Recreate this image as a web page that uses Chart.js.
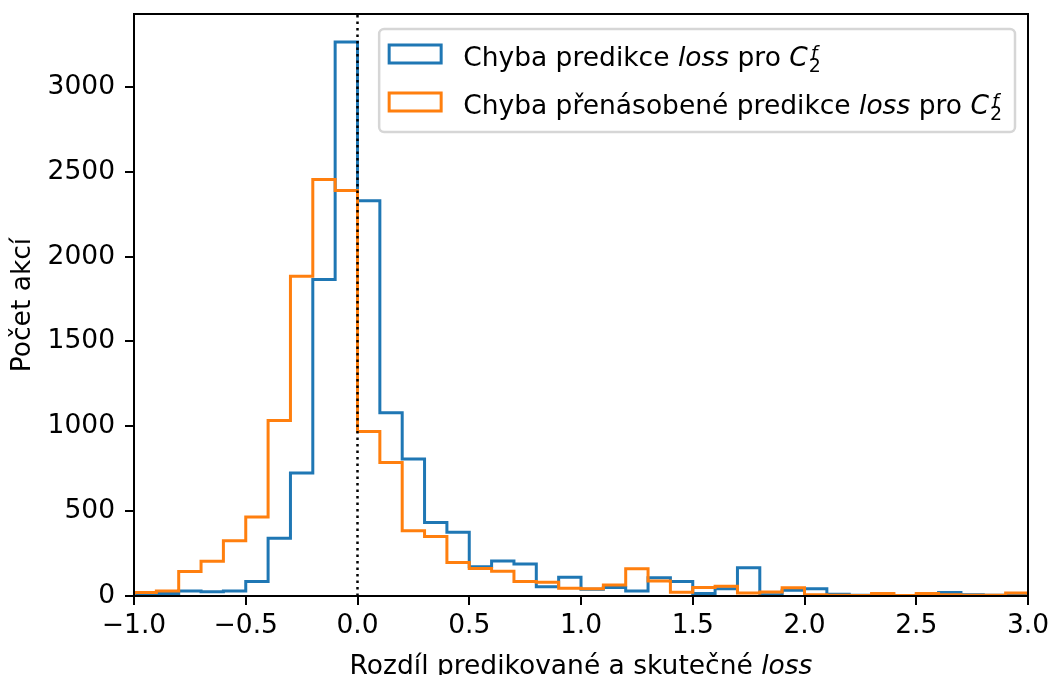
<!DOCTYPE html>
<html lang="cs">
<head>
<meta charset="UTF-8">
<title>Chyba predikce loss</title>
<script src="https://cdn.jsdelivr.net/npm/chart.js@4.4.1/dist/chart.umd.min.js"></script>
<style>
    html, body { margin: 0; padding: 0; background: #ffffff; }
    #wrap { width: 1053px; height: 675px; }
</style>
</head>
<body>
<div id="wrap"><canvas id="histChart" width="1053" height="675"></canvas></div>
<script>
// Bin edges of the histogram (width 0.1)
const binEdges = [
    -1.0, -0.9, -0.8, -0.7, -0.6, -0.5, -0.4, -0.3, -0.2, -0.1,
    0.0, 0.1, 0.2, 0.3, 0.4, 0.5, 0.6, 0.7, 0.8, 0.9,
    1.0, 1.1, 1.2, 1.3, 1.4, 1.5, 1.6, 1.7, 1.8, 1.9,
    2.0, 2.1, 2.2, 2.3, 2.4, 2.5, 2.6, 2.7, 2.8, 2.9, 3.0
];

// Counts per bin - plain prediction
const chybaPredikce = [
    10, 15, 30, 25, 30, 85, 340, 725, 1865, 3265,
    2330, 1080, 808, 433, 375, 172, 206, 188, 55, 110,
    40, 50, 30, 108, 85, 14, 42, 166, 8, 34,
    43, 10, 5, 5, 3, 5, 20, 8, 5, 5
];

// Counts per bin - multiplied prediction
const chybaPrenasobene = [
    20, 30, 145, 205, 325, 465, 1035, 1885, 2455, 2390,
    970, 787, 385, 350, 198, 162, 146, 85, 81, 45,
    43, 65, 160, 89, 22, 50, 57, 18, 24, 49,
    8, 5, 3, 14, 3, 14, 8, 5, 5, 18
];

const xTicks = [-1.0, -0.5, 0.0, 0.5, 1.0, 1.5, 2.0, 2.5, 3.0];
const xTickLabels = ['\u22121.0', '\u22120.5', '0.0', '0.5', '1.0', '1.5', '2.0', '2.5', '3.0'];
const yTicks = [0, 500, 1000, 1500, 2000, 2500, 3000];
const yTickLabels = ['0', '500', '1000', '1500', '2000', '2500', '3000'];
const yMax = 3430;
const refLineX = 0;

const BLUE = '#1f77b4';
const ORANGE = '#ff7f0e';
const FONT = "'DejaVu Sans', sans-serif";
const FS = 26.5;

// Legend entries: text parts (n = normal, i = italic), followed by C_2^f
const legendItems = [
    { color: BLUE, parts: [['Chyba predikce ', 'n'], ['loss', 'i'], [' pro ', 'n']] },
    { color: ORANGE, parts: [['Chyba p\u0159en\u00e1soben\u00e9 predikce ', 'n'], ['loss', 'i'], [' pro ', 'n']] }
];

// Turn bin counts into the points of a step outline
function stepPoints(edges, counts) {
    const pts = [{ x: edges[0], y: 0 }];
    counts.forEach((c, i) => pts.push({ x: edges[i], y: c }));
    pts.push({ x: edges[edges.length - 1], y: counts[counts.length - 1] });
    pts.push({ x: edges[edges.length - 1], y: 0 });
    return pts;
}

function fontStr(style, size) {
    return (style === 'i' ? 'italic ' : '') + size + 'px ' + FONT;
}

// Draw text made of normal / italic pieces, return end x
function drawParts(ctx, parts, x, y, size) {
    parts.forEach(p => {
        ctx.font = fontStr(p[1], size);
        ctx.fillText(p[0], x, y);
        x += ctx.measureText(p[0]).width;
    });
    return x;
}

function partsWidth(ctx, parts, size) {
    let w = 0;
    parts.forEach(p => {
        ctx.font = fontStr(p[1], size);
        w += ctx.measureText(p[0]).width;
    });
    return w;
}

// C with subscript 2 and superscript f
function drawMathC(ctx, x, y, measureOnly) {
    ctx.font = fontStr('i', FS);
    const wC = ctx.measureText('C').width;
    const small = 19;
    ctx.font = fontStr('n', small);
    const w2 = ctx.measureText('2').width;
    if (!measureOnly) {
        ctx.font = fontStr('i', FS);
        ctx.fillText('C', x, y);
        ctx.font = fontStr('n', small);
        ctx.fillText('2', x + wC + 1, y + 6);
        ctx.font = fontStr('i', small);
        ctx.fillText('f', x + wC + 3, y - 6);
    }
    return wC + 1 + w2;
}

const extrasPlugin = {
    id: 'extras',
    afterDatasetsDraw(chart) {
        const { ctx, chartArea, scales } = chart;
        // dotted reference line at zero
        const px = scales.x.getPixelForValue(refLineX);
        ctx.save();
        ctx.strokeStyle = '#000000';
        ctx.lineWidth = 2.5;
        ctx.setLineDash([2.5, 4]);
        ctx.beginPath();
        ctx.moveTo(px, chartArea.bottom);
        ctx.lineTo(px, chartArea.top);
        ctx.stroke();
        ctx.restore();
    },
    afterDraw(chart) {
        const { ctx, chartArea } = chart;
        ctx.save();

        // axes frame
        ctx.strokeStyle = '#000000';
        ctx.lineWidth = 2;
        ctx.strokeRect(chartArea.left, chartArea.top, chartArea.right - chartArea.left, chartArea.bottom - chartArea.top);

        // x axis title with italic "loss"
        const titleParts = [['Rozd\u00edl predikovan\u00e9 a skute\u010dn\u00e9 ', 'n'], ['loss', 'i']];
        const tw = partsWidth(ctx, titleParts, FS);
        ctx.fillStyle = '#000000';
        ctx.textBaseline = 'alphabetic';
        ctx.textAlign = 'left';
        drawParts(ctx, titleParts, (chartArea.left + chartArea.right) / 2 - tw / 2, chart.height - 1, FS);

        // legend
        let maxW = 0;
        legendItems.forEach(item => {
            const w = partsWidth(ctx, item.parts, FS) + drawMathC(ctx, 0, 0, true);
            maxW = Math.max(maxW, w);
        });
        const handleW = 52, handleH = 18, padL = 10, gap = 22, padR = 13;
        const boxW = padL + handleW + gap + maxW + padR;
        const boxH = 103;
        const boxX = chartArea.right - 13 - boxW;
        const boxY = chartArea.top + 15;

        ctx.beginPath();
        ctx.roundRect(boxX, boxY, boxW, boxH, 5);
        ctx.fillStyle = 'rgba(255,255,255,0.8)';
        ctx.fill();
        ctx.strokeStyle = '#d6d6d6';
        ctx.lineWidth = 2.5;
        ctx.stroke();

        legendItems.forEach((item, i) => {
            const cy = boxY + 25 + i * 48;
            ctx.strokeStyle = item.color;
            ctx.lineWidth = 3;
            ctx.strokeRect(boxX + padL, cy - handleH / 2, handleW, handleH);
            ctx.fillStyle = '#000000';
            const tx = boxX + padL + handleW + gap;
            const endX = drawParts(ctx, item.parts, tx, cy + 12, FS);
            drawMathC(ctx, endX, cy + 12, false);
        });

        ctx.restore();
    }
};

Chart.defaults.font.family = FONT;
Chart.defaults.font.size = FS;
Chart.defaults.color = '#000000';

function initChart() {
    const ctx = document.getElementById('histChart').getContext('2d');
    new Chart(ctx, {
        type: 'line',
        data: {
            datasets: [{
                label: 'Chyba predikce loss pro C2f',
                data: stepPoints(binEdges, chybaPredikce),
                borderColor: BLUE,
                borderWidth: 3,
                stepped: 'before',
                pointRadius: 0,
                fill: false,
                order: 2
            }, {
                label: 'Chyba přenásobené predikce loss pro C2f',
                data: stepPoints(binEdges, chybaPrenasobene),
                borderColor: ORANGE,
                borderWidth: 3,
                stepped: 'before',
                pointRadius: 0,
                fill: false,
                order: 1
            }]
        },
        options: {
            responsive: false,
            animation: false,
            devicePixelRatio: 1,
            layout: { padding: { top: 14, right: 25, left: 0, bottom: 0 } },
            plugins: {
                legend: { display: false },
                tooltip: { enabled: false }
            },
            scales: {
                x: {
                    type: 'linear',
                    min: binEdges[0],
                    max: binEdges[binEdges.length - 1],
                    afterBuildTicks: scale => { scale.ticks = xTicks.map(v => ({ value: v })); },
                    afterFit: scale => {
                        scale.height = 79;
                        scale.paddingLeft = 0;
                        scale.paddingRight = 0;
                    },
                    ticks: {
                        padding: 5,
                        maxRotation: 0,
                        autoSkip: false,
                        callback: (v) => {
                            const i = xTicks.indexOf(v);
                            return i >= 0 ? xTickLabels[i] : '';
                        }
                    },
                    grid: {
                        drawOnChartArea: false,
                        drawTicks: true,
                        tickLength: 9,
                        color: '#000000',
                        lineWidth: 2
                    },
                    border: { display: true, color: '#000000', width: 2 }
                },
                y: {
                    min: 0,
                    max: yMax,
                    afterBuildTicks: scale => { scale.ticks = yTicks.map(v => ({ value: v })); },
                    afterFit: scale => {
                        scale.width = 134;
                        scale.paddingTop = 0;
                        scale.paddingBottom = 0;
                    },
                    ticks: {
                        padding: 10,
                        callback: (v) => {
                            const i = yTicks.indexOf(v);
                            return i >= 0 ? yTickLabels[i] : '';
                        }
                    },
                    grid: {
                        drawOnChartArea: false,
                        drawTicks: true,
                        tickLength: 9,
                        color: '#000000',
                        lineWidth: 2
                    },
                    border: { display: true, color: '#000000', width: 2 },
                    title: {
                        display: true,
                        text: 'Po\u010det akc\u00ed',
                        font: { size: FS },
                        padding: { top: 7, bottom: 0 }
                    }
                }
            }
        },
        plugins: [extrasPlugin]
    });
}

document.addEventListener('DOMContentLoaded', initChart);
</script>
</body>
</html>
